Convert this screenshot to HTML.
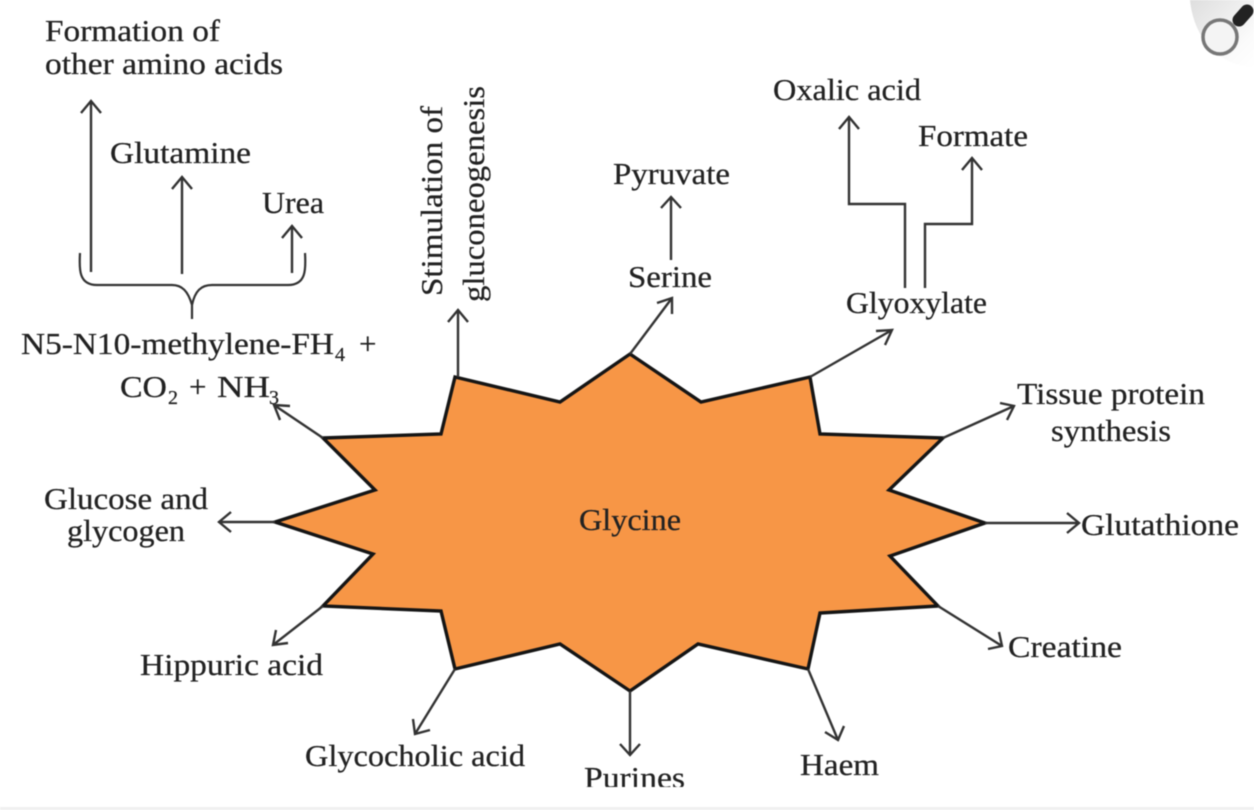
<!DOCTYPE html>
<html><head><meta charset="utf-8"><style>
html,body{margin:0;padding:0;background:#fff;width:1254px;height:810px;overflow:hidden}
svg{display:block;filter:blur(.5px)}
text{font-family:"Liberation Serif",serif;font-size:31px;fill:#222;stroke:#222;stroke-width:.25px}
.s{font-size:20px}
.l{fill:none;stroke:#333;stroke-width:2.4}
</style></head><body>
<svg width="1254" height="810" viewBox="0 0 1254 810" xmlns="http://www.w3.org/2000/svg">
<defs>
<linearGradient id="c" x1="0" y1="0" x2="1" y2="1"><stop offset="0" stop-color="#dedede"/><stop offset=".75" stop-color="#fbfbfb"/><stop offset="1" stop-color="#fff"/></linearGradient>
</defs>
<rect width="1254" height="810" fill="#fff"/>
<rect y="807" width="1254" height="3" fill="#f0f0f0"/>
<path d="M1190 0H1254V67C1220 66 1194 40 1190 0Z" fill="url(#c)"/>
<circle cx="1220" cy="37" r="17" fill="#f4f4f4" stroke="#777" stroke-width="3.5"/>
<path d="M1239 20L1247 11" stroke="#222" stroke-width="13" stroke-linecap="round"/>

<polygon points="630,354 701,402 810,377 820,434 943,438 889,490 985,523 890,556 938,606 820,613 808,669 698,644 630,691 560,644 455,669 441,611 323,606 373,554 275,522 375,490 323,438 441,434 455,377 560,402" fill="#f79646" stroke="#151515" stroke-width="3.4" stroke-linejoin="miter"/>

<g class="l">
<path d="M91 272V101M81 113L91 101L101 113"/>
<path d="M182 274V177M172 189L182 177L192 189"/>
<path d="M292 273V226M282 238L292 226L302 238"/>
<path d="M80 253C79 270 79 285 97 285H172C182 285 188 291 192 305V319M192 305C195 291 201 285 212 285H288C306 285 306 270 305 253" stroke-width="2.2"/>
<path d="M458 377V310M448 322L458 310L468 322"/>
<path d="M630 354L672 298M657 303L672 298L672 314"/>
<path d="M671 260V197M661 208L671 197L681 208"/>
<path d="M810 377L892 330M876 331L892 330L885 345"/>
<path d="M905 288V204H849V117M839 129L849 117L859 129"/>
<path d="M925 288V224H972V158M962 170L972 158L982 170"/>
<path d="M943 438L1014 406M1000 403L1014 406L1007 420"/>
<path d="M985 523H1079M1067 513L1079 523L1067 533"/>
<path d="M938 606L1002 646M988 649L1002 646L999 632"/>
<path d="M808 669L838 740M825 732L838 740L844 726"/>
<path d="M630 691V755M620 744L630 755L640 744"/>
<path d="M455 669L415 734M430 730L415 734L413 719"/>
<path d="M323 606L273 645M288 643L273 645L276 630"/>
<path d="M275 522H219M231 512L219 522L231 532"/>
<path d="M323 438L274 405M280 420L274 405L290 406"/>
</g>

<text x="45" y="41" textLength="175" lengthAdjust="spacingAndGlyphs">Formation of</text>
<text x="45" y="74" textLength="238" lengthAdjust="spacingAndGlyphs">other amino acids</text>
<text x="110" y="163" textLength="141" lengthAdjust="spacingAndGlyphs">Glutamine</text>
<text x="262" y="213" textLength="62" lengthAdjust="spacingAndGlyphs">Urea</text>
<text x="21" y="354" textLength="313" lengthAdjust="spacingAndGlyphs">N5-N10-methylene-FH</text>
<text x="335" y="361" class="s">4</text>
<text x="359" y="354">+</text>
<text x="120" y="397" textLength="47" lengthAdjust="spacingAndGlyphs">CO</text>
<text x="168" y="404" class="s">2</text>
<text x="189" y="397">+</text>
<text x="217" y="397" textLength="53" lengthAdjust="spacingAndGlyphs">NH</text>
<text x="269" y="404" class="s">3</text>
<text transform="translate(442,296) rotate(-90)" textLength="190" lengthAdjust="spacingAndGlyphs">Stimulation of</text>
<text transform="translate(484,302) rotate(-90)" textLength="216" lengthAdjust="spacingAndGlyphs">gluconeogenesis</text>
<text x="613" y="184" textLength="117" lengthAdjust="spacingAndGlyphs">Pyruvate</text>
<text x="628" y="287" textLength="84" lengthAdjust="spacingAndGlyphs">Serine</text>
<text x="773" y="100" textLength="148" lengthAdjust="spacingAndGlyphs">Oxalic acid</text>
<text x="918" y="146" textLength="110" lengthAdjust="spacingAndGlyphs">Formate</text>
<text x="846" y="313" textLength="141" lengthAdjust="spacingAndGlyphs">Glyoxylate</text>
<text x="1017" y="404" textLength="188" lengthAdjust="spacingAndGlyphs">Tissue protein</text>
<text x="1051" y="441" textLength="120" lengthAdjust="spacingAndGlyphs">synthesis</text>
<text x="1081" y="535" textLength="158" lengthAdjust="spacingAndGlyphs">Glutathione</text>
<text x="1008" y="657" textLength="114" lengthAdjust="spacingAndGlyphs">Creatine</text>
<text x="800" y="775" textLength="79" lengthAdjust="spacingAndGlyphs">Haem</text>
<text x="584" y="788" textLength="101" lengthAdjust="spacingAndGlyphs">Purines</text>
<rect x="570" y="787" width="130" height="12" fill="#fff"/>
<text x="305" y="766" textLength="220" lengthAdjust="spacingAndGlyphs">Glycocholic acid</text>
<text x="140" y="675" textLength="183" lengthAdjust="spacingAndGlyphs">Hippuric acid</text>
<text x="44" y="509" textLength="164" lengthAdjust="spacingAndGlyphs">Glucose and</text>
<text x="67" y="541" textLength="118" lengthAdjust="spacingAndGlyphs">glycogen</text>
<text x="579" y="530" textLength="102" lengthAdjust="spacingAndGlyphs">Glycine</text>
</svg>
</body></html>
